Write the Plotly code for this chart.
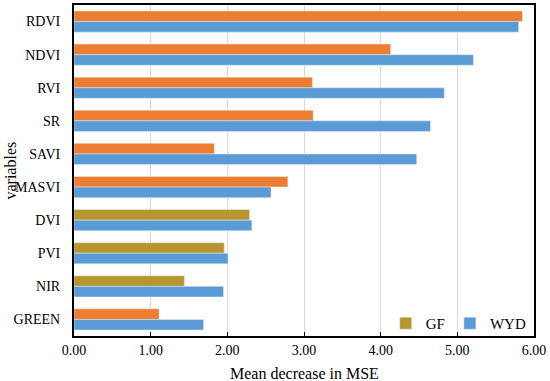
import plotly.graph_objects as go

categories = ["RDVI", "NDVI", "RVI", "SR", "SAVI", "MASVI", "DVI", "PVI", "NIR", "GREEN"]
gf_values = [5.85, 4.13, 3.11, 3.12, 1.83, 2.79, 2.29, 1.96, 1.44, 1.11]
wyd_values = [5.80, 5.21, 4.83, 4.65, 4.47, 2.57, 2.32, 2.01, 1.95, 1.69]
x_ticks = [0, 1, 2, 3, 4, 5, 6]
x_tick_labels = ["0.00", "1.00", "2.00", "3.00", "4.00", "5.00", "6.00"]

ORANGE = "#ED7D31"
OLIVE = "#B8962E"
BLUE = "#5B9BD5"
gf_colors = [ORANGE] * 6 + [OLIVE] * 3 + [ORANGE]

FONT = "Liberation Serif, Times New Roman, serif"

fig = go.Figure()
fig.add_trace(go.Bar(y=categories, x=gf_values, orientation="h", name="GF",
                     marker=dict(color=gf_colors), offsetgroup="gf", showlegend=False))
fig.add_trace(go.Bar(y=[None], x=[None], orientation="h", name="GF",
                     marker=dict(color=OLIVE), offsetgroup="gf", showlegend=True))
fig.add_trace(go.Bar(y=categories, x=wyd_values, orientation="h", name="WYD",
                     marker=dict(color=BLUE), offsetgroup="wyd"))

fig.update_layout(
    width=550, height=381,
    margin=dict(l=74, r=16, t=5, b=45),
    plot_bgcolor="white", paper_bgcolor="white",
    barmode="group", bargap=0.36, bargroupgap=0.0,
    font=dict(family=FONT, size=14, color="black"),
    legend=dict(orientation="h", x=0.995, y=-0.012, xanchor="right", yanchor="bottom",
                bgcolor="rgba(0,0,0,0)", font=dict(size=15), itemwidth=30,
                tracegroupgap=0, traceorder="normal"),
    xaxis=dict(range=[0, 6], tickvals=x_ticks, ticktext=x_tick_labels,
               showgrid=True, gridcolor="#d9d9d9", gridwidth=1,
               showline=True, linecolor="black", linewidth=2, mirror=True,
               ticks="inside", ticklen=4, tickcolor="black",
               tickfont=dict(size=14), automargin=False, zeroline=False),
    yaxis=dict(autorange="reversed", showline=True, linecolor="black", linewidth=2,
               mirror=True, ticks="outside", ticklen=9, tickcolor="rgba(0,0,0,0)",
               automargin=False, tickfont=dict(size=14)),
    annotations=[
        dict(text="Mean decrease in MSE", xref="paper", yref="paper", x=0.5, y=0,
             xanchor="center", yanchor="top", yshift=-27, showarrow=False,
             font=dict(size=16)),
        dict(text="variables", xref="paper", yref="paper", x=0, y=0.5,
             xanchor="center", yanchor="middle", xshift=-64, showarrow=False,
             textangle=-90, font=dict(size=16)),
    ],
)

fig.write_html("out.html", config={"displayModeBar": False},
               post_script="document.body.style.margin='0';")
